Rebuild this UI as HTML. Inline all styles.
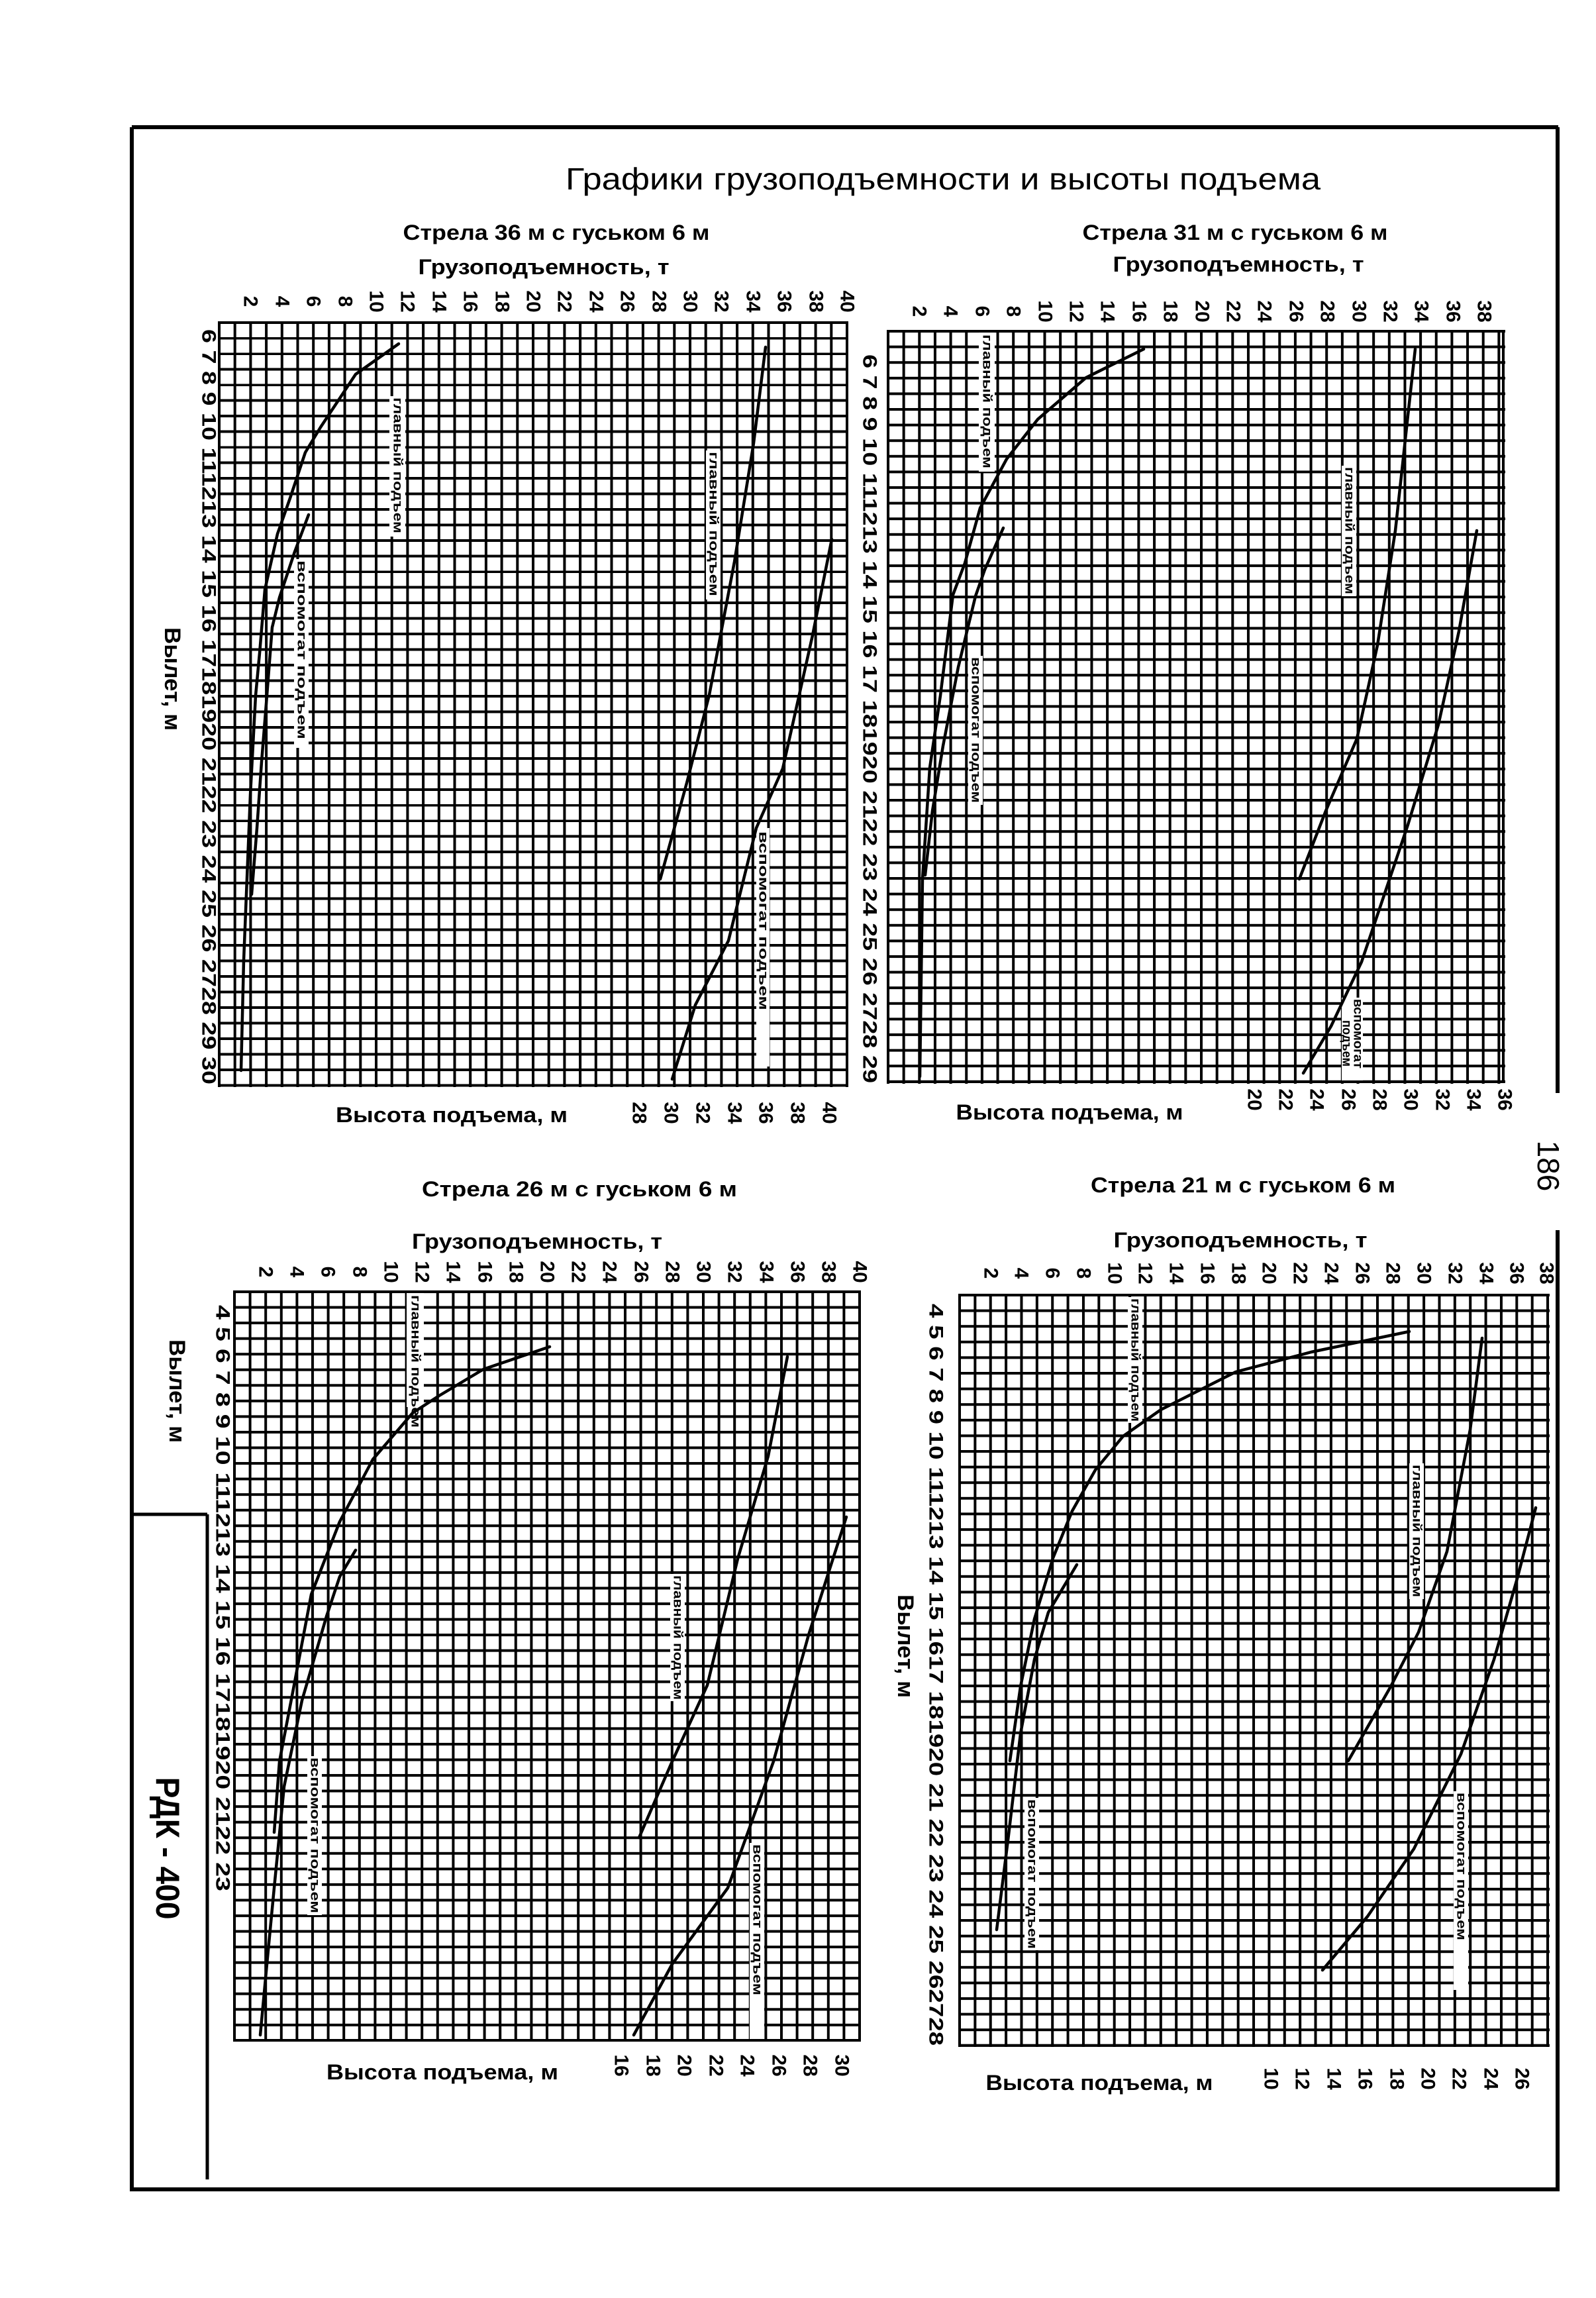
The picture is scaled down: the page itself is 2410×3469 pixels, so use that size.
<!DOCTYPE html>
<html><head><meta charset="utf-8"><style>
html,body{margin:0;padding:0;background:#fff}
svg{display:block}
text{font-family:"Liberation Sans",sans-serif;font-weight:bold;fill:#000}
</style></head><body>
<svg width="2410" height="3469" viewBox="0 0 2410 3469" xmlns="http://www.w3.org/2000/svg">
<defs>
<pattern id="g1" patternUnits="userSpaceOnUse" x="329" y="485" width="23.7" height="23.5"><rect x="0" y="0" width="4" height="23.5"/><rect x="0" y="0" width="23.7" height="4"/></pattern>
<pattern id="g2" patternUnits="userSpaceOnUse" x="1339" y="498" width="23.65" height="23.6"><rect x="0" y="0" width="4" height="23.6"/><rect x="0" y="0" width="23.65" height="4"/></pattern>
<pattern id="g3" patternUnits="userSpaceOnUse" x="352" y="1948" width="23.6" height="23.55"><rect x="0" y="0" width="4" height="23.55"/><rect x="0" y="0" width="23.6" height="4"/></pattern>
<pattern id="g4" patternUnits="userSpaceOnUse" x="1447" y="1953" width="23.37" height="23.6"><rect x="0" y="0" width="4" height="23.6"/><rect x="0" y="0" width="23.37" height="4"/></pattern>
</defs>
<rect width="2410" height="3469" fill="#fff"/>

<!-- Frame -->
<g stroke="#000" stroke-width="6" fill="none">
<line x1="199" y1="192" x2="2353" y2="192"/>
<line x1="199" y1="192" x2="199" y2="3305"/>
<line x1="196" y1="3305" x2="2355" y2="3305"/>
<line x1="2352" y1="192" x2="2352" y2="1650"/>
<line x1="2352" y1="1857" x2="2352" y2="3308"/>
<line x1="199" y1="2286" x2="313" y2="2286" stroke-width="5"/>
<line x1="313" y1="2286" x2="313" y2="3290" stroke-width="5"/>
</g>

<text x="1424" y="286" font-size="46" text-anchor="middle" textLength="1140" lengthAdjust="spacingAndGlyphs" font-weight="normal" style="font-weight:normal">Графики грузоподъемности и высоты подъема</text>

<!-- ===== Chart 1 ===== -->
<text x="840" y="362" font-size="32" text-anchor="middle" textLength="463" lengthAdjust="spacingAndGlyphs">Стрела 36 м с гуськом 6 м</text>
<text x="821" y="414" font-size="32" text-anchor="middle" textLength="379" lengthAdjust="spacingAndGlyphs">Грузоподъемность, т</text>
<rect x="329" y="485" width="952" height="1156" fill="url(#g1)"/>
<rect x="331" y="487" width="948" height="1151.5" fill="none" stroke="#000" stroke-width="4"/>
<g font-size="30">
<text transform="translate(378,455) rotate(90)" text-anchor="middle" dominant-baseline="central">2</text>
<text transform="translate(426,455) rotate(90)" text-anchor="middle" dominant-baseline="central">4</text>
<text transform="translate(473,455) rotate(90)" text-anchor="middle" dominant-baseline="central">6</text>
<text transform="translate(521,455) rotate(90)" text-anchor="middle" dominant-baseline="central">8</text>
<text transform="translate(568,455) rotate(90)" text-anchor="middle" dominant-baseline="central">10</text>
<text transform="translate(615,455) rotate(90)" text-anchor="middle" dominant-baseline="central">12</text>
<text transform="translate(663,455) rotate(90)" text-anchor="middle" dominant-baseline="central">14</text>
<text transform="translate(710,455) rotate(90)" text-anchor="middle" dominant-baseline="central">16</text>
<text transform="translate(758,455) rotate(90)" text-anchor="middle" dominant-baseline="central">18</text>
<text transform="translate(805,455) rotate(90)" text-anchor="middle" dominant-baseline="central">20</text>
<text transform="translate(852,455) rotate(90)" text-anchor="middle" dominant-baseline="central">22</text>
<text transform="translate(900,455) rotate(90)" text-anchor="middle" dominant-baseline="central">24</text>
<text transform="translate(947,455) rotate(90)" text-anchor="middle" dominant-baseline="central">26</text>
<text transform="translate(995,455) rotate(90)" text-anchor="middle" dominant-baseline="central">28</text>
<text transform="translate(1042,455) rotate(90)" text-anchor="middle" dominant-baseline="central">30</text>
<text transform="translate(1089,455) rotate(90)" text-anchor="middle" dominant-baseline="central">32</text>
<text transform="translate(1137,455) rotate(90)" text-anchor="middle" dominant-baseline="central">34</text>
<text transform="translate(1184,455) rotate(90)" text-anchor="middle" dominant-baseline="central">36</text>
<text transform="translate(1232,455) rotate(90)" text-anchor="middle" dominant-baseline="central">38</text>
<text transform="translate(1279,455) rotate(90)" text-anchor="middle" dominant-baseline="central">40</text>
<text transform="translate(315,497) rotate(90)" dominant-baseline="central" textLength="1140" lengthAdjust="spacingAndGlyphs">6 7 8 9 10 111213 14 15 16 17181920 2122 23 24 25 26 2728 29 30</text>
<text transform="translate(965,1680) rotate(90)" text-anchor="middle" dominant-baseline="central">28</text>
<text transform="translate(1013,1680) rotate(90)" text-anchor="middle" dominant-baseline="central">30</text>
<text transform="translate(1061,1680) rotate(90)" text-anchor="middle" dominant-baseline="central">32</text>
<text transform="translate(1109,1680) rotate(90)" text-anchor="middle" dominant-baseline="central">34</text>
<text transform="translate(1156,1680) rotate(90)" text-anchor="middle" dominant-baseline="central">36</text>
<text transform="translate(1204,1680) rotate(90)" text-anchor="middle" dominant-baseline="central">38</text>
<text transform="translate(1252,1680) rotate(90)" text-anchor="middle" dominant-baseline="central">40</text>
</g>
<text transform="translate(260,1025) rotate(90)" font-size="34" text-anchor="middle" dominant-baseline="central" textLength="156" lengthAdjust="spacingAndGlyphs">Вылет, м</text>
<text x="682" y="1694" font-size="32" text-anchor="middle" textLength="350" lengthAdjust="spacingAndGlyphs">Высота подъема, м</text>
<!-- label boxes -->
<g fill="#fff">
<rect x="588" y="598" width="24" height="212"/>
<rect x="444" y="844" width="22" height="285"/>
<rect x="1066" y="680" width="22" height="225"/>
<rect x="1142" y="1250" width="20" height="360"/>
</g>
<g font-size="19">
<text transform="translate(600,600) rotate(90)" dominant-baseline="central" textLength="205" lengthAdjust="spacingAndGlyphs">главный подъем</text>
<text transform="translate(455,846) rotate(90)" dominant-baseline="central" textLength="270" lengthAdjust="spacingAndGlyphs">вспомогат подъем</text>
<text transform="translate(1077,682) rotate(90)" dominant-baseline="central" textLength="218" lengthAdjust="spacingAndGlyphs">главный подъем</text>
<text transform="translate(1152,1255) rotate(90)" dominant-baseline="central" textLength="270" lengthAdjust="spacingAndGlyphs">вспомогат подъем</text>
</g>
<g fill="none" stroke="#000" stroke-width="4.5" stroke-linejoin="round" stroke-linecap="round">
<polyline points="602,519 537,565 484,645 461,683 438,752 419,806 400,890 392,986 386,1050 378,1200 372,1350 368,1450 364,1616"/>
<polyline points="466,777 445,833 422,902 411,947 403,1050 395,1150 388,1250 380,1350"/>
<polyline points="1156,524 1138,669 1109,848 1071,1049 1037,1182 997,1327"/>
<polyline points="1256,814 1227,959 1182,1160 1142,1250 1100,1420 1050,1517 1015,1629"/>
</g>

<!-- ===== Chart 2 ===== -->
<text x="1865" y="362" font-size="32" text-anchor="middle" textLength="461" lengthAdjust="spacingAndGlyphs">Стрела 31 м с гуськом 6 м</text>
<text x="1870" y="410" font-size="32" text-anchor="middle" textLength="379" lengthAdjust="spacingAndGlyphs">Грузоподъемность, т</text>
<rect x="1339" y="498" width="934" height="1138" fill="url(#g2)"/>
<rect x="1341" y="500" width="929" height="1133" fill="none" stroke="#000" stroke-width="4"/>
<g font-size="30">
<text transform="translate(1388,470) rotate(90)" text-anchor="middle" dominant-baseline="central">2</text>
<text transform="translate(1435,470) rotate(90)" text-anchor="middle" dominant-baseline="central">4</text>
<text transform="translate(1483,470) rotate(90)" text-anchor="middle" dominant-baseline="central">6</text>
<text transform="translate(1530,470) rotate(90)" text-anchor="middle" dominant-baseline="central">8</text>
<text transform="translate(1578,470) rotate(90)" text-anchor="middle" dominant-baseline="central">10</text>
<text transform="translate(1625,470) rotate(90)" text-anchor="middle" dominant-baseline="central">12</text>
<text transform="translate(1672,470) rotate(90)" text-anchor="middle" dominant-baseline="central">14</text>
<text transform="translate(1720,470) rotate(90)" text-anchor="middle" dominant-baseline="central">16</text>
<text transform="translate(1767,470) rotate(90)" text-anchor="middle" dominant-baseline="central">18</text>
<text transform="translate(1815,470) rotate(90)" text-anchor="middle" dominant-baseline="central">20</text>
<text transform="translate(1862,470) rotate(90)" text-anchor="middle" dominant-baseline="central">22</text>
<text transform="translate(1909,470) rotate(90)" text-anchor="middle" dominant-baseline="central">24</text>
<text transform="translate(1957,470) rotate(90)" text-anchor="middle" dominant-baseline="central">26</text>
<text transform="translate(2004,470) rotate(90)" text-anchor="middle" dominant-baseline="central">28</text>
<text transform="translate(2052,470) rotate(90)" text-anchor="middle" dominant-baseline="central">30</text>
<text transform="translate(2099,470) rotate(90)" text-anchor="middle" dominant-baseline="central">32</text>
<text transform="translate(2146,470) rotate(90)" text-anchor="middle" dominant-baseline="central">34</text>
<text transform="translate(2194,470) rotate(90)" text-anchor="middle" dominant-baseline="central">36</text>
<text transform="translate(2241,470) rotate(90)" text-anchor="middle" dominant-baseline="central">38</text>
<text transform="translate(1313,535) rotate(90)" dominant-baseline="central" textLength="1100" lengthAdjust="spacingAndGlyphs">6 7 8 9 10 111213 14 15 16 17 181920 2122 23 24 25 26 2728 29</text>
<text transform="translate(1894,1660) rotate(90)" text-anchor="middle" dominant-baseline="central">20</text>
<text transform="translate(1941,1660) rotate(90)" text-anchor="middle" dominant-baseline="central">22</text>
<text transform="translate(1988,1660) rotate(90)" text-anchor="middle" dominant-baseline="central">24</text>
<text transform="translate(2036,1660) rotate(90)" text-anchor="middle" dominant-baseline="central">26</text>
<text transform="translate(2083,1660) rotate(90)" text-anchor="middle" dominant-baseline="central">28</text>
<text transform="translate(2130,1660) rotate(90)" text-anchor="middle" dominant-baseline="central">30</text>
<text transform="translate(2178,1660) rotate(90)" text-anchor="middle" dominant-baseline="central">32</text>
<text transform="translate(2225,1660) rotate(90)" text-anchor="middle" dominant-baseline="central">34</text>
<text transform="translate(2272,1660) rotate(90)" text-anchor="middle" dominant-baseline="central">36</text>
</g>
<text x="1615" y="1690" font-size="32" text-anchor="middle" textLength="343" lengthAdjust="spacingAndGlyphs">Высота подъема, м</text>
<g fill="#fff">
<rect x="1478" y="502" width="24" height="210"/>
<rect x="1462" y="990" width="22" height="225"/>
<rect x="2026" y="703" width="22" height="197"/>
<rect x="2026" y="1506" width="32" height="125"/>
</g>
<g font-size="19">
<text transform="translate(1490,505) rotate(90)" dominant-baseline="central" textLength="202" lengthAdjust="spacingAndGlyphs">главный подъем</text>
<text transform="translate(1473,992) rotate(90)" dominant-baseline="central" textLength="220" lengthAdjust="spacingAndGlyphs">вспомогат подъем</text>
<text transform="translate(2037,705) rotate(90)" dominant-baseline="central" textLength="192" lengthAdjust="spacingAndGlyphs">главный подъем</text>
<text transform="translate(2050,1508) rotate(90)" dominant-baseline="central" textLength="105" lengthAdjust="spacingAndGlyphs">вспомогат</text>
<text transform="translate(2033,1540) rotate(90)" dominant-baseline="central" textLength="70" lengthAdjust="spacingAndGlyphs">подъем</text>
</g>
<g fill="none" stroke="#000" stroke-width="4.5" stroke-linejoin="round" stroke-linecap="round">
<polyline points="1727,527 1640,570 1567,633 1520,693 1480,767 1457,850 1439,898 1420,1050 1404,1159 1393,1327 1389,1625"/>
<polyline points="1515,797 1487,860 1473,900 1447,1007 1424,1126 1408,1224 1397,1321"/>
<polyline points="2137,527 2126,627 2107,801 2080,974 2049,1115 2002,1224 1962,1327"/>
<polyline points="2230,801 2203,953 2172,1094 2126,1245 2056,1452 2010,1549 1968,1620"/>
</g>

<!-- page number -->
<text transform="translate(2338,1760) rotate(90)" font-size="46" text-anchor="middle" dominant-baseline="central" style="font-weight:normal">186</text>

<!-- ===== Chart 3 ===== -->
<text x="875" y="1806" font-size="32" text-anchor="middle" textLength="476" lengthAdjust="spacingAndGlyphs">Стрела 26 м с гуськом 6 м</text>
<text x="811" y="1885" font-size="32" text-anchor="middle" textLength="378" lengthAdjust="spacingAndGlyphs">Грузоподъемность, т</text>
<rect x="352" y="1948" width="948" height="1134" fill="url(#g3)"/>
<rect x="354" y="1950" width="944" height="1130" fill="none" stroke="#000" stroke-width="4"/>
<g font-size="30">
<text transform="translate(401,1920) rotate(90)" text-anchor="middle" dominant-baseline="central">2</text>
<text transform="translate(448,1920) rotate(90)" text-anchor="middle" dominant-baseline="central">4</text>
<text transform="translate(495,1920) rotate(90)" text-anchor="middle" dominant-baseline="central">6</text>
<text transform="translate(543,1920) rotate(90)" text-anchor="middle" dominant-baseline="central">8</text>
<text transform="translate(590,1920) rotate(90)" text-anchor="middle" dominant-baseline="central">10</text>
<text transform="translate(637,1920) rotate(90)" text-anchor="middle" dominant-baseline="central">12</text>
<text transform="translate(684,1920) rotate(90)" text-anchor="middle" dominant-baseline="central">14</text>
<text transform="translate(732,1920) rotate(90)" text-anchor="middle" dominant-baseline="central">16</text>
<text transform="translate(779,1920) rotate(90)" text-anchor="middle" dominant-baseline="central">18</text>
<text transform="translate(826,1920) rotate(90)" text-anchor="middle" dominant-baseline="central">20</text>
<text transform="translate(873,1920) rotate(90)" text-anchor="middle" dominant-baseline="central">22</text>
<text transform="translate(920,1920) rotate(90)" text-anchor="middle" dominant-baseline="central">24</text>
<text transform="translate(968,1920) rotate(90)" text-anchor="middle" dominant-baseline="central">26</text>
<text transform="translate(1015,1920) rotate(90)" text-anchor="middle" dominant-baseline="central">28</text>
<text transform="translate(1062,1920) rotate(90)" text-anchor="middle" dominant-baseline="central">30</text>
<text transform="translate(1109,1920) rotate(90)" text-anchor="middle" dominant-baseline="central">32</text>
<text transform="translate(1157,1920) rotate(90)" text-anchor="middle" dominant-baseline="central">34</text>
<text transform="translate(1204,1920) rotate(90)" text-anchor="middle" dominant-baseline="central">36</text>
<text transform="translate(1251,1920) rotate(90)" text-anchor="middle" dominant-baseline="central">38</text>
<text transform="translate(1298,1920) rotate(90)" text-anchor="middle" dominant-baseline="central">40</text>
<text transform="translate(336,1970) rotate(90)" dominant-baseline="central" textLength="885" lengthAdjust="spacingAndGlyphs">4 5 6 7 8 9 10 111213 14 15 16 17181920 2122 23</text>
<text transform="translate(938,3118) rotate(90)" text-anchor="middle" dominant-baseline="central">16</text>
<text transform="translate(986,3118) rotate(90)" text-anchor="middle" dominant-baseline="central">18</text>
<text transform="translate(1033,3118) rotate(90)" text-anchor="middle" dominant-baseline="central">20</text>
<text transform="translate(1081,3118) rotate(90)" text-anchor="middle" dominant-baseline="central">22</text>
<text transform="translate(1128,3118) rotate(90)" text-anchor="middle" dominant-baseline="central">24</text>
<text transform="translate(1176,3118) rotate(90)" text-anchor="middle" dominant-baseline="central">26</text>
<text transform="translate(1223,3118) rotate(90)" text-anchor="middle" dominant-baseline="central">28</text>
<text transform="translate(1271,3118) rotate(90)" text-anchor="middle" dominant-baseline="central">30</text>
</g>
<text transform="translate(267,2100) rotate(90)" font-size="34" text-anchor="middle" dominant-baseline="central" textLength="156" lengthAdjust="spacingAndGlyphs">Вылет, м</text>
<text x="668" y="3139" font-size="32" text-anchor="middle" textLength="350" lengthAdjust="spacingAndGlyphs">Высота подъема, м</text>
<text transform="translate(253,2790) rotate(90)" font-size="50" text-anchor="middle" dominant-baseline="central" textLength="215" lengthAdjust="spacingAndGlyphs">РДК - 400</text>
<g fill="#fff">
<rect x="614" y="1952" width="26" height="172"/>
<rect x="464" y="2651" width="22" height="240"/>
<rect x="1012" y="2376" width="22" height="192"/>
<rect x="1132" y="2782" width="22" height="296"/>
</g>
<g font-size="19">
<text transform="translate(627,1955) rotate(90)" dominant-baseline="central" textLength="200" lengthAdjust="spacingAndGlyphs">главный подъем</text>
<text transform="translate(475,2653) rotate(90)" dominant-baseline="central" textLength="235" lengthAdjust="spacingAndGlyphs">вспомогат подъем</text>
<text transform="translate(1023,2378) rotate(90)" dominant-baseline="central" textLength="188" lengthAdjust="spacingAndGlyphs">главный подъем</text>
<text transform="translate(1143,2784) rotate(90)" dominant-baseline="central" textLength="228" lengthAdjust="spacingAndGlyphs">вспомогат подъем</text>
</g>
<g fill="none" stroke="#000" stroke-width="4.5" stroke-linejoin="round" stroke-linecap="round">
<polyline points="830,2033 730,2067 663,2107 623,2133 563,2203 513,2297 470,2407 441,2560 422,2659 414,2766"/>
<polyline points="537,2340 513,2380 493,2440 456,2567 429,2697 414,2850 403,2965 393,3072"/>
<polyline points="1189,2048 1160,2198 1114,2353 1068,2544 1015,2659 965,2774"/>
<polyline points="1278,2290 1221,2468 1168,2659 1099,2850 1015,2965 957,3072"/>
</g>

<!-- ===== Chart 4 ===== -->
<text x="1877" y="1800" font-size="32" text-anchor="middle" textLength="460" lengthAdjust="spacingAndGlyphs">Стрела 21 м с гуськом 6 м</text>
<text x="1873" y="1883" font-size="32" text-anchor="middle" textLength="383" lengthAdjust="spacingAndGlyphs">Грузоподъемность, т</text>
<rect x="1447" y="1953" width="893" height="1137" fill="url(#g4)"/>
<rect x="1449" y="1955" width="888" height="1132.8" fill="none" stroke="#000" stroke-width="4"/>
<g font-size="30">
<text transform="translate(1496,1922) rotate(90)" text-anchor="middle" dominant-baseline="central">2</text>
<text transform="translate(1542,1922) rotate(90)" text-anchor="middle" dominant-baseline="central">4</text>
<text transform="translate(1589,1922) rotate(90)" text-anchor="middle" dominant-baseline="central">6</text>
<text transform="translate(1636,1922) rotate(90)" text-anchor="middle" dominant-baseline="central">8</text>
<text transform="translate(1683,1922) rotate(90)" text-anchor="middle" dominant-baseline="central">10</text>
<text transform="translate(1729,1922) rotate(90)" text-anchor="middle" dominant-baseline="central">12</text>
<text transform="translate(1776,1922) rotate(90)" text-anchor="middle" dominant-baseline="central">14</text>
<text transform="translate(1823,1922) rotate(90)" text-anchor="middle" dominant-baseline="central">16</text>
<text transform="translate(1870,1922) rotate(90)" text-anchor="middle" dominant-baseline="central">18</text>
<text transform="translate(1916,1922) rotate(90)" text-anchor="middle" dominant-baseline="central">20</text>
<text transform="translate(1963,1922) rotate(90)" text-anchor="middle" dominant-baseline="central">22</text>
<text transform="translate(2010,1922) rotate(90)" text-anchor="middle" dominant-baseline="central">24</text>
<text transform="translate(2057,1922) rotate(90)" text-anchor="middle" dominant-baseline="central">26</text>
<text transform="translate(2103,1922) rotate(90)" text-anchor="middle" dominant-baseline="central">28</text>
<text transform="translate(2150,1922) rotate(90)" text-anchor="middle" dominant-baseline="central">30</text>
<text transform="translate(2197,1922) rotate(90)" text-anchor="middle" dominant-baseline="central">32</text>
<text transform="translate(2244,1922) rotate(90)" text-anchor="middle" dominant-baseline="central">34</text>
<text transform="translate(2290,1922) rotate(90)" text-anchor="middle" dominant-baseline="central">36</text>
<text transform="translate(2335,1922) rotate(90)" text-anchor="middle" dominant-baseline="central">38</text>
<text transform="translate(1413,1968) rotate(90)" dominant-baseline="central" textLength="1120" lengthAdjust="spacingAndGlyphs">4 5 6 7 8 9 10 111213 14 15 1617 181920 21 22 23 24 25 262728</text>
<text transform="translate(1919,3138) rotate(90)" text-anchor="middle" dominant-baseline="central">10</text>
<text transform="translate(1966,3138) rotate(90)" text-anchor="middle" dominant-baseline="central">12</text>
<text transform="translate(2014,3138) rotate(90)" text-anchor="middle" dominant-baseline="central">14</text>
<text transform="translate(2061,3138) rotate(90)" text-anchor="middle" dominant-baseline="central">16</text>
<text transform="translate(2109,3138) rotate(90)" text-anchor="middle" dominant-baseline="central">18</text>
<text transform="translate(2156,3138) rotate(90)" text-anchor="middle" dominant-baseline="central">20</text>
<text transform="translate(2203,3138) rotate(90)" text-anchor="middle" dominant-baseline="central">22</text>
<text transform="translate(2251,3138) rotate(90)" text-anchor="middle" dominant-baseline="central">24</text>
<text transform="translate(2298,3138) rotate(90)" text-anchor="middle" dominant-baseline="central">26</text>
</g>
<text transform="translate(1367,2485) rotate(90)" font-size="34" text-anchor="middle" dominant-baseline="central" textLength="156" lengthAdjust="spacingAndGlyphs">Вылет, м</text>
<text x="1660" y="3155" font-size="32" text-anchor="middle" textLength="343" lengthAdjust="spacingAndGlyphs">Высота подъема, м</text>
<g fill="#fff">
<rect x="1703" y="1958" width="22" height="190"/>
<rect x="2128" y="2209" width="22" height="205"/>
<rect x="1547" y="2714" width="22" height="230"/>
<rect x="2195" y="2704" width="22" height="300"/>
</g>
<g font-size="19">
<text transform="translate(1714,1960) rotate(90)" dominant-baseline="central" textLength="186" lengthAdjust="spacingAndGlyphs">главный подъем</text>
<text transform="translate(2139,2211) rotate(90)" dominant-baseline="central" textLength="200" lengthAdjust="spacingAndGlyphs">главный подъем</text>
<text transform="translate(1558,2716) rotate(90)" dominant-baseline="central" textLength="226" lengthAdjust="spacingAndGlyphs">вспомогат подъем</text>
<text transform="translate(2206,2706) rotate(90)" dominant-baseline="central" textLength="223" lengthAdjust="spacingAndGlyphs">вспомогат подъем</text>
</g>
<g fill="none" stroke="#000" stroke-width="4.5" stroke-linejoin="round" stroke-linecap="round">
<polyline points="2128,2010 1980,2041 1866,2071 1753,2128 1696,2168 1654,2219 1619,2281 1590,2352 1562,2444 1541,2546 1525,2658"/>
<polyline points="1626,2362 1583,2434 1562,2505 1541,2617 1523,2770 1505,2913"/>
<polyline points="2238,2020 2220,2158 2185,2342 2142,2464 2100,2546 2036,2658"/>
<polyline points="2319,2276 2291,2383 2256,2505 2206,2648 2135,2791 2065,2893 1997,2974"/>
</g>
</svg>
</body></html>
